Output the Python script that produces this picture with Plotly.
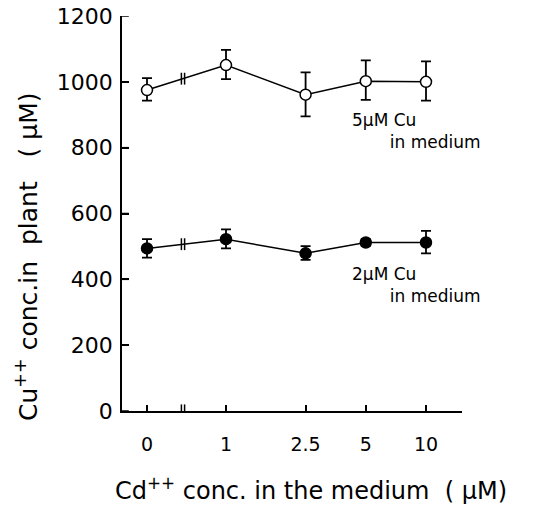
import numpy as np
import plotly.graph_objects as go

# ---- data ----
cd_conc = [0, 1, 2.5, 5, 10]
cd_labels = ["0", "1", "2.5", "5", "10"]

cu5_mean = [975, 1051, 961, 1002, 1000]
cu5_err_up = [36, 46, 68, 63, 62]
cu5_err_dn = [32, 43, 66, 57, 57]

cu2_mean = [494, 522, 479, 512, 512]
cu2_err_up = [28, 30, 22, 10, 35]
cu2_err_dn = [28, 28, 20, 10, 33]

y_ticks = [0, 200, 400, 600, 800, 1000, 1200]

label5 = "5µM Cu<br>&nbsp;&nbsp;&nbsp;&nbsp;&nbsp;&nbsp;&nbsp;in medium"
label2 = "2µM Cu<br>&nbsp;&nbsp;&nbsp;&nbsp;&nbsp;&nbsp;&nbsp;in medium"
x_title = "Cd<sup>++</sup> conc. in the medium  ( µM)"
y_title = "Cu<sup>++</sup> conc.in  plant   ( µM)"

# ---- axis mapping: log10 scale for >0, zero placed left of an axis break ----
ZERO_POS = -0.395
BREAK_POS = -0.215


def pos(v):
    return ZERO_POS if v == 0 else float(np.log10(v))


xp = [pos(v) for v in cd_conc]

FONT = "DejaVu Sans"
fig = go.Figure()

for mean, up, dn, fill in [(cu5_mean, cu5_err_up, cu5_err_dn, "white"),
                           (cu2_mean, cu2_err_up, cu2_err_dn, "black")]:
    fig.add_trace(go.Scatter(
        x=xp, y=mean, mode="lines+markers",
        line=dict(color="black", width=1.5),
        marker=dict(size=11, color=fill, line=dict(color="black", width=1.5)),
        error_y=dict(type="data", array=up, arrayminus=dn, symmetric=False,
                     color="black", thickness=1.8, width=5),
        showlegend=False, cliponaxis=False,
    ))
    # break mark on the connecting line
    yb = mean[0] + (mean[1] - mean[0]) * (BREAK_POS - xp[0]) / (xp[1] - xp[0])
    for dx in (-0.008, 0.008):
        fig.add_shape(type="line", xref="x", yref="y",
                      x0=BREAK_POS + dx, x1=BREAK_POS + dx,
                      y0=yb - 18, y1=yb + 18,
                      line=dict(color="black", width=1.5))

# inward y tick marks
for t in y_ticks:
    fig.add_shape(type="line", xref="x domain", yref="y", x0=0, x1=0.02, y0=t, y1=t,
                  line=dict(color="black", width=1.5), layer="above")

# break on x axis
fig.add_shape(type="rect", xref="x", yref="y", x0=BREAK_POS - 0.008, x1=BREAK_POS + 0.008,
              y0=-3, y1=3, fillcolor="white", line=dict(width=0), layer="above")
for dx in (-0.008, 0.008):
    fig.add_shape(type="line", xref="x", yref="y",
                  x0=BREAK_POS + dx, x1=BREAK_POS + dx, y0=-20, y1=20,
                  line=dict(color="black", width=1.5), layer="above")

fig.add_annotation(x=pos(5), y=cu5_mean[3], xref="x", yref="y",
                   text=label5, showarrow=False, xanchor="left", yanchor="top",
                   xshift=-16, yshift=-27, align="left",
                   font=dict(family=FONT, size=17, color="black"))
fig.add_annotation(x=pos(5), y=cu2_mean[3], xref="x", yref="y",
                   text=label2, showarrow=False, xanchor="left", yanchor="top",
                   xshift=-16, yshift=-20, align="left",
                   font=dict(family=FONT, size=17, color="black"))

# axis titles as annotations (off-centre like the reference)
fig.add_annotation(x=0.556, y=0, xref="paper", yref="paper", text=x_title,
                   showarrow=False, xanchor="center", yanchor="middle", yshift=-78,
                   font=dict(family=FONT, size=24, color="black"))
fig.add_annotation(x=0, y=0.39, xref="paper", yref="paper", text=y_title,
                   showarrow=False, textangle=-90, xanchor="center", yanchor="middle",
                   xshift=-95, font=dict(family=FONT, size=25, color="black"))

fig.update_layout(
    width=534, height=505,
    margin=dict(l=122, r=72, t=16, b=94, autoexpand=False),
    paper_bgcolor="white", plot_bgcolor="white",
    font=dict(family=FONT, color="black"),
    xaxis=dict(range=[-0.52, 1.18], tickvals=xp, ticktext=cd_labels,
               showgrid=False, zeroline=False, showline=True, linecolor="black",
               linewidth=1.5, ticks="inside", ticklen=6, tickwidth=1.5,
               tickcolor="black", ticklabelstandoff=15, automargin=False,
               tickfont=dict(size=19, family=FONT)),
    yaxis=dict(range=[0, 1200], tickvals=y_ticks, anchor="x", side="left",
               mirror=False, layer="above traces",
               showgrid=False, zeroline=False, showline=True, linecolor="black",
               linewidth=1.8, ticks="inside", ticklen=7, tickwidth=1.5,
               tickcolor="black", ticklabelstandoff=3, automargin=False,
               tickfont=dict(size=22, family=FONT)),
)

fig.write_html("out.html", config={"displayModeBar": False},
               post_script="document.body.style.margin='0';")
